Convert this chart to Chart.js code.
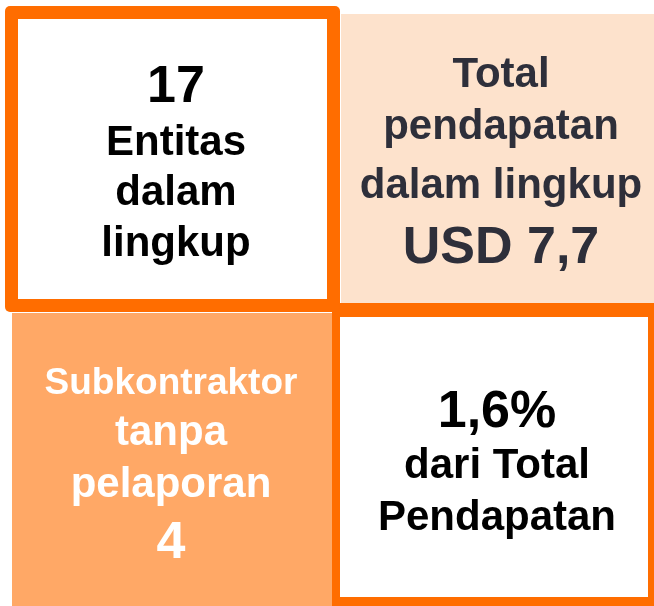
<!DOCTYPE html>
<html>
<head>
<meta charset="utf-8">
<script src="https://cdn.jsdelivr.net/npm/chart.js@4"></script>
<style>
  html, body { margin: 0; padding: 0; background: #fff; }
  #wrap { width: 654px; height: 606px; position: relative; }
</style>
</head>
<body>
<div id="wrap"><canvas id="tiles"></canvas></div>
<script>
// data of the four tiles
const tileNames = ['entitas', 'pendapatan', 'subkontraktor', 'persentase'];
const tileValues = [17, 7.7, 4, 1.6];
const valuePrefix = ['', 'USD ', '', ''];
const valueSuffix = ['', '', '', '%'];
const tileLabels = [
    ['Entitas', 'dalam', 'lingkup'],
    ['Total', 'pendapatan', 'dalam lingkup'],
    ['Subkontraktor', 'tanpa', 'pelaporan'],
    ['dari Total', 'Pendapatan']
];
const valueFirst = [true, false, false, true];

// layout of the tiles, in axis units (x: 0..654, y: 0..606 from the top)
// sizes: font size of each line, top to bottom
const tileLayout = [
    { x0: 5, x1: 340, y0: 6, y1: 312, fill: '#ffffff', border: '#ff6d00', bw: 13, radius: 5,
      cx: 176, base: [102, 155, 205, 256], color: '#000000', sizes: [52, 42, 42, 42] },
    { x0: 341, x1: 654, y0: 14, y1: 303, fill: '#fde2cc',
      cx: 501, base: [87, 139, 198, 263], color: '#2e2f3a', sizes: [42, 42, 42, 52] },
    { x0: 12, x1: 332, y0: 313, y1: 606, fill: '#ffa866',
      cx: 171, base: [394, 445, 497, 558], color: '#ffffff', sizes: [37, 42, 42, 52] },
    { x0: 332, x1: 654, y0: 303, y1: 606, fill: '#ffffff', border: '#ff6d00',
      inset: { l: 8, t: 14, r: 6, b: 9 },
      cx: 497, base: [427, 478, 530], color: '#000000', sizes: [52, 42, 42] }
];
const drawOrder = [1, 2, 3, 0];
const fontFamily = '"Liberation Sans", Arial, Helvetica, sans-serif';

function formatValue(i) {
    return valuePrefix[i] + String(tileValues[i]).replace('.', ',') + valueSuffix[i];
}

const tilePlugin = {
    id: 'tiles',
    beforeDatasetsDraw(chart) {
        const ctx = chart.ctx;
        const xs = chart.scales.x;
        const ys = chart.scales.y;
        ctx.save();
        drawOrder.forEach(i => {
            const t = tileLayout[i];
            const left = xs.getPixelForValue(t.x0);
            const right = xs.getPixelForValue(t.x1);
            const top = ys.getPixelForValue(t.y0);
            const bottom = ys.getPixelForValue(t.y1);
            if (t.border && t.bw) {
                ctx.fillStyle = t.border;
                ctx.beginPath();
                ctx.roundRect(left, top, right - left, bottom - top, t.radius);
                ctx.fill();
                ctx.fillStyle = t.fill;
                ctx.fillRect(left + t.bw, top + t.bw, right - left - 2 * t.bw, bottom - top - 2 * t.bw);
            } else if (t.border) {
                ctx.fillStyle = t.border;
                ctx.fillRect(left, top, right - left, bottom - top);
                ctx.fillStyle = t.fill;
                ctx.fillRect(left + t.inset.l, top + t.inset.t,
                    right - left - t.inset.l - t.inset.r, bottom - top - t.inset.t - t.inset.b);
            } else {
                ctx.fillStyle = t.fill;
                ctx.fillRect(left, top, right - left, bottom - top);
            }

            // texts
            const lines = valueFirst[i]
                ? [formatValue(i)].concat(tileLabels[i])
                : tileLabels[i].concat([formatValue(i)]);
            ctx.fillStyle = t.color;
            ctx.textAlign = 'center';
            ctx.textBaseline = 'alphabetic';
            lines.forEach((line, k) => {
                ctx.font = 'bold ' + t.sizes[k] + 'px ' + fontFamily;
                ctx.fillText(line, xs.getPixelForValue(t.cx), ys.getPixelForValue(t.base[k]));
            });
        });
        ctx.restore();
    }
};

new Chart(document.getElementById('tiles').getContext('2d'), {
    type: 'scatter',
    data: {
        labels: tileNames,
        datasets: [{
            label: 'Ringkasan',
            data: [],
            pointRadius: 0
        }]
    },
    options: {
        responsive: true,
        maintainAspectRatio: false,
        animation: false,
        layout: { padding: 0 },
        scales: {
            x: { type: 'linear', min: 0, max: 654, display: false },
            y: { type: 'linear', min: 0, max: 606, reverse: true, display: false }
        },
        plugins: {
            legend: { display: false },
            tooltip: { enabled: false },
            title: { display: false }
        }
    },
    plugins: [tilePlugin]
});
</script>
</body>
</html>
